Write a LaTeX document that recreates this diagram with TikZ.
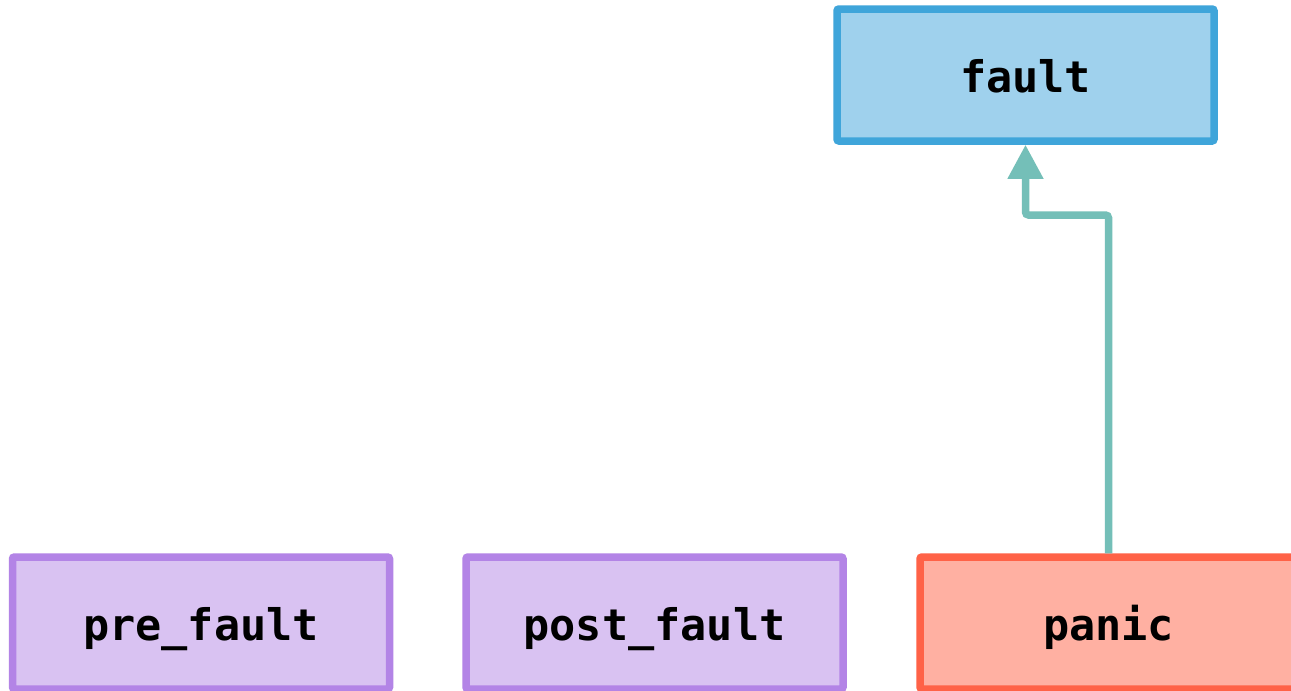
\documentclass[tikz,border=0pt]{standalone}
\usepackage{fontspec}
\setmonofont{DejaVu Sans Mono}
\usetikzlibrary{arrows.meta}
\definecolor{faultfill}{HTML}{9FD1ED}
\definecolor{faultline}{HTML}{3FA5DA}
\definecolor{hookfill}{HTML}{D9C2F2}
\definecolor{hookline}{HTML}{B384E6}
\definecolor{panicfill}{HTML}{FFB0A2}
\definecolor{panicline}{HTML}{FF6247}
\definecolor{flow}{HTML}{74BFB8}
\tikzset{
  box/.style={rectangle, rounded corners=2pt, line width=7.5pt,
    minimum width=377pt, minimum height=132pt, inner sep=0pt,
    text height=34pt, text depth=0pt,
    font=\ttfamily\bfseries\fontsize{43.5}{52}\selectfont},
  faultbox/.style={box, draw=faultline, fill=faultfill},
  hookbox/.style={box, draw=hookline, fill=hookfill},
  panicbox/.style={box, draw=panicline, fill=panicfill},
  flowarrow/.style={draw=flow, line width=7.5pt, rounded corners=3pt,
    -{Triangle[width=34pt,length=34pt]}}
}
\begin{document}
\begin{tikzpicture}[x=1pt, y=-1pt]
  \clip (0,0) rectangle (1291,691);
  \fill[white] (0,0) rectangle (1291,691);
  \node[faultbox] (fault) at (1025.5,75) {fault};
  \node[hookbox] (pre) at (201,623) {pre\_fault};
  \node[hookbox] (post) at (654.5,623) {post\_fault};
  \node[panicbox] (panic) at (1108.5,623) {panic};
  \coordinate (bendA) at (1108.5,215);
  \coordinate (bendB) at (1025.5,215);
  \draw[flowarrow] (panic.north) -- (bendA) -- (bendB) -- (fault.south);
\end{tikzpicture}
\end{document}
